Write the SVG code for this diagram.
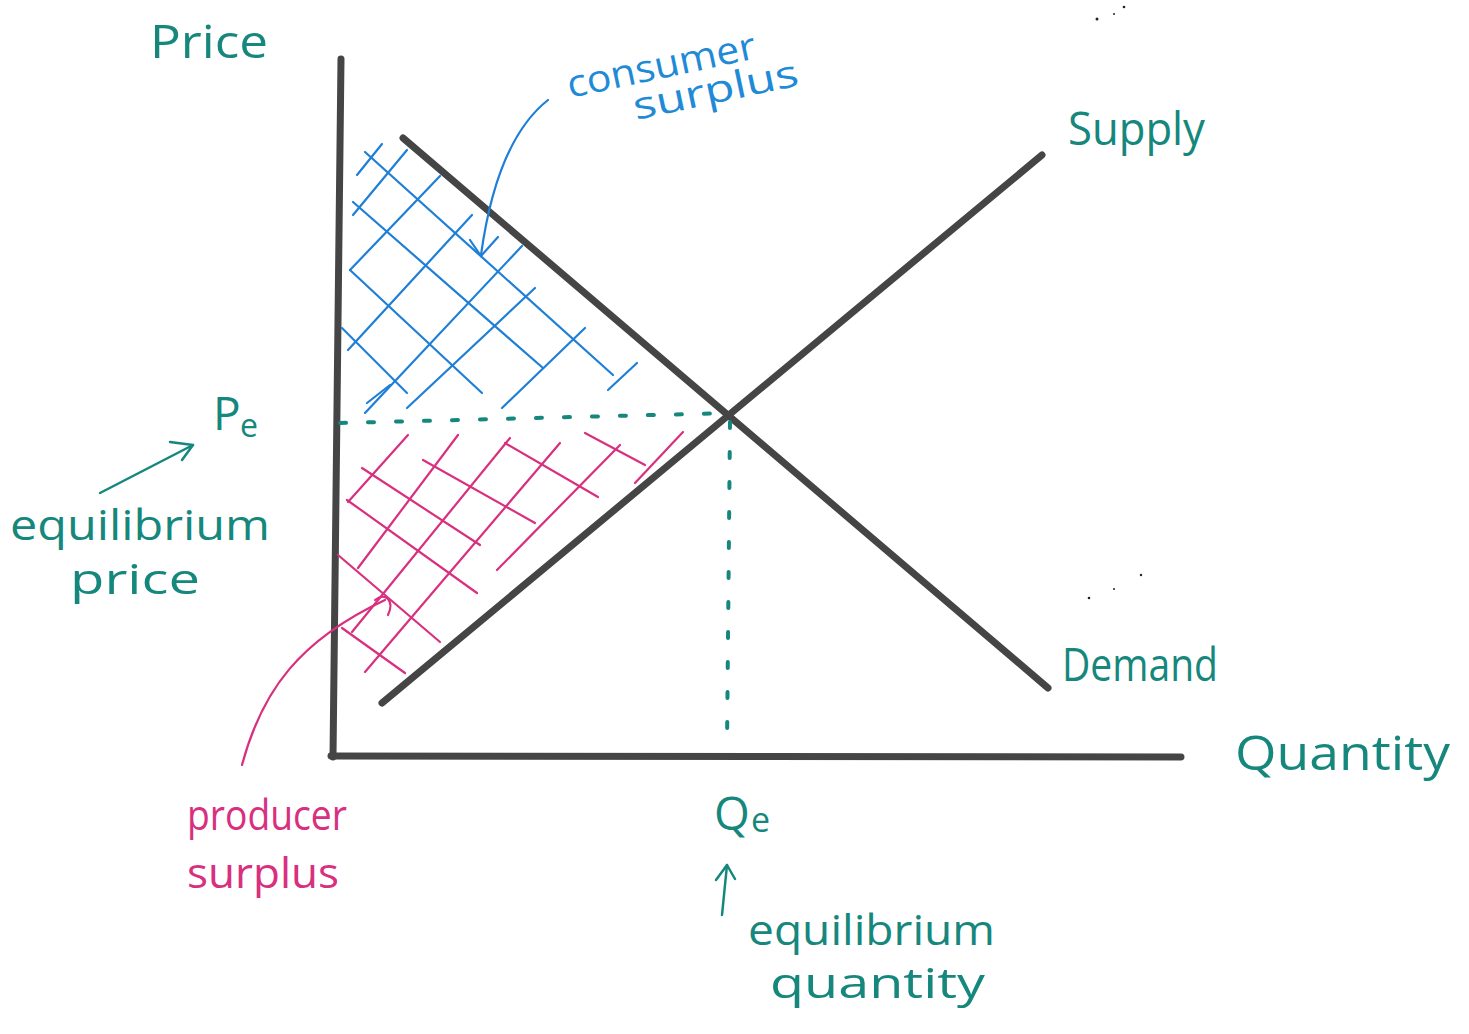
<svg xmlns="http://www.w3.org/2000/svg" width="1469" height="1034" viewBox="0 0 1469 1034">
<style>
.ax{stroke:#454545;stroke-width:7;fill:none;stroke-linecap:round}
.blue{stroke:#1f7fd6;stroke-width:2.2;fill:none;stroke-linecap:round}
.pink{stroke:#d8307f;stroke-width:2.2;fill:none;stroke-linecap:round}
.tealdot{stroke:#16877d;stroke-width:4;fill:none;stroke-linecap:round}
.tealln{stroke:#16877d;stroke-width:2.5;fill:none;stroke-linecap:round;stroke-linejoin:round}
.t{font-family:"Open Sans","Noto Sans",sans-serif;fill:#16877d}
.tb{font-family:"Open Sans","Noto Sans",sans-serif;fill:#1f8ad6}
.tp{font-family:"Open Sans","Noto Sans",sans-serif;fill:#d8307f}
</style>
<rect width="1469" height="1034" fill="#ffffff"/>
<g id="axes">
<path class="ax" d="M341,59 L333,757"/>
<path class="ax" d="M331,756 L1181,757"/>
</g>
<g id="consumer-hatch">
<path class="blue" d="M365,152 L613,375"/>
<path class="blue" d="M353,202 L543,368"/>
<path class="blue" d="M350,270 L482,393"/>
<path class="blue" d="M342,328 L407,393"/>
<path class="blue" d="M357,175 L382,144"/>
<path class="blue" d="M353,215 L407,150"/>
<path class="blue" d="M350,270 L440,176"/>
<path class="blue" d="M348,350 L472,215"/>
<path class="blue" d="M365,413 L522,246"/>
<path class="blue" d="M407,408 L535,288"/>
<path class="blue" d="M502,408 L585,328"/>
<path class="blue" d="M608,390 L637,363"/>
<path class="blue" d="M367,403 L390,385"/>
</g>
<g id="producer-hatch">
<path class="pink" d="M408,435 L348,502"/>
<path class="pink" d="M458,435 L358,568"/>
<path class="pink" d="M510,438 L352,632"/>
<path class="pink" d="M560,443 L365,672"/>
<path class="pink" d="M620,445 L497,570"/>
<path class="pink" d="M683,432 L635,483"/>
<path class="pink" d="M362,468 L480,545"/>
<path class="pink" d="M347,500 L477,593"/>
<path class="pink" d="M423,460 L535,523"/>
<path class="pink" d="M505,443 L598,497"/>
<path class="pink" d="M585,433 L645,465"/>
<path class="pink" d="M338,555 L440,642"/>
<path class="pink" d="M342,628 L405,673"/>
</g>
<g id="curves">
<path id="demand" class="ax" d="M403,138 L1048,688"/>
<path id="supply" class="ax" d="M382,703 L1042,155"/>
</g>
<g id="connectors">
<path class="tealdot" d="M340,423 L730,413" stroke-dasharray="6,22"/>
<path class="tealdot" d="M730,422 L727,748" stroke-dasharray="6,24"/>
<path class="blue" stroke-width="3" d="M548,100 C510,130 490,190 481,255"/>
<path class="blue" stroke-width="3" d="M470,240 L481,256 L498,237"/>
<path class="tealln" d="M100,493 L193,445"/>
<path class="tealln" d="M170,442 L193,445 L182,460"/>
<path class="pink" stroke-width="3" d="M242,765 C262,690 300,640 385,600"/>
<path class="pink" stroke-width="3" d="M375,600 C385,592 395,600 388,615"/>
<path class="tealln" d="M722,915 L727,865"/>
<path class="tealln" d="M716,880 L727,865 L735,879"/>
</g>
<g id="specks" fill="#222">
<circle cx="1097" cy="19" r="1.5"/><circle cx="1114" cy="14" r="1"/><circle cx="1124" cy="7" r="1.3"/>
<circle cx="1089" cy="598" r="1.3"/><circle cx="1114" cy="589" r="1"/><circle cx="1141" cy="575" r="1.2"/>
</g>
<g id="labels">
<text class="t" x="150" y="58" font-size="46" textLength="118" lengthAdjust="spacingAndGlyphs">Price</text>
<text class="tb" font-size="38" transform="translate(570,98) rotate(-12)" textLength="192" lengthAdjust="spacingAndGlyphs">consumer</text>
<text class="tb" font-size="38" transform="translate(636,120) rotate(-12)" textLength="168" lengthAdjust="spacingAndGlyphs">surplus</text>
<text class="t" x="1068" y="145" font-size="46" textLength="137" lengthAdjust="spacingAndGlyphs">Supply</text>
<text class="t" x="1062" y="681" font-size="46" textLength="156" lengthAdjust="spacingAndGlyphs">Demand</text>
<text class="t" x="1235" y="770" font-size="48" textLength="215" lengthAdjust="spacingAndGlyphs">Quantity</text>
<text class="t" x="714" y="830" font-size="46">Q</text>
<text class="t" x="751" y="832" font-size="34">e</text>
<text class="t" x="213" y="430" font-size="46">P</text>
<text class="t" x="240" y="437" font-size="32">e</text>
<text class="t" x="10" y="540" font-size="42" textLength="260" lengthAdjust="spacingAndGlyphs">equilibrium</text>
<text class="t" x="70" y="594" font-size="42" textLength="130" lengthAdjust="spacingAndGlyphs">price</text>
<text class="tp" x="187" y="830" font-size="42" textLength="160" lengthAdjust="spacingAndGlyphs">producer</text>
<text class="tp" x="187" y="888" font-size="42" textLength="152" lengthAdjust="spacingAndGlyphs">surplus</text>
<text class="t" x="748" y="945" font-size="42" textLength="247" lengthAdjust="spacingAndGlyphs">equilibrium</text>
<text class="t" x="770" y="998" font-size="42" textLength="215" lengthAdjust="spacingAndGlyphs">quantity</text>
</g>
</svg>
